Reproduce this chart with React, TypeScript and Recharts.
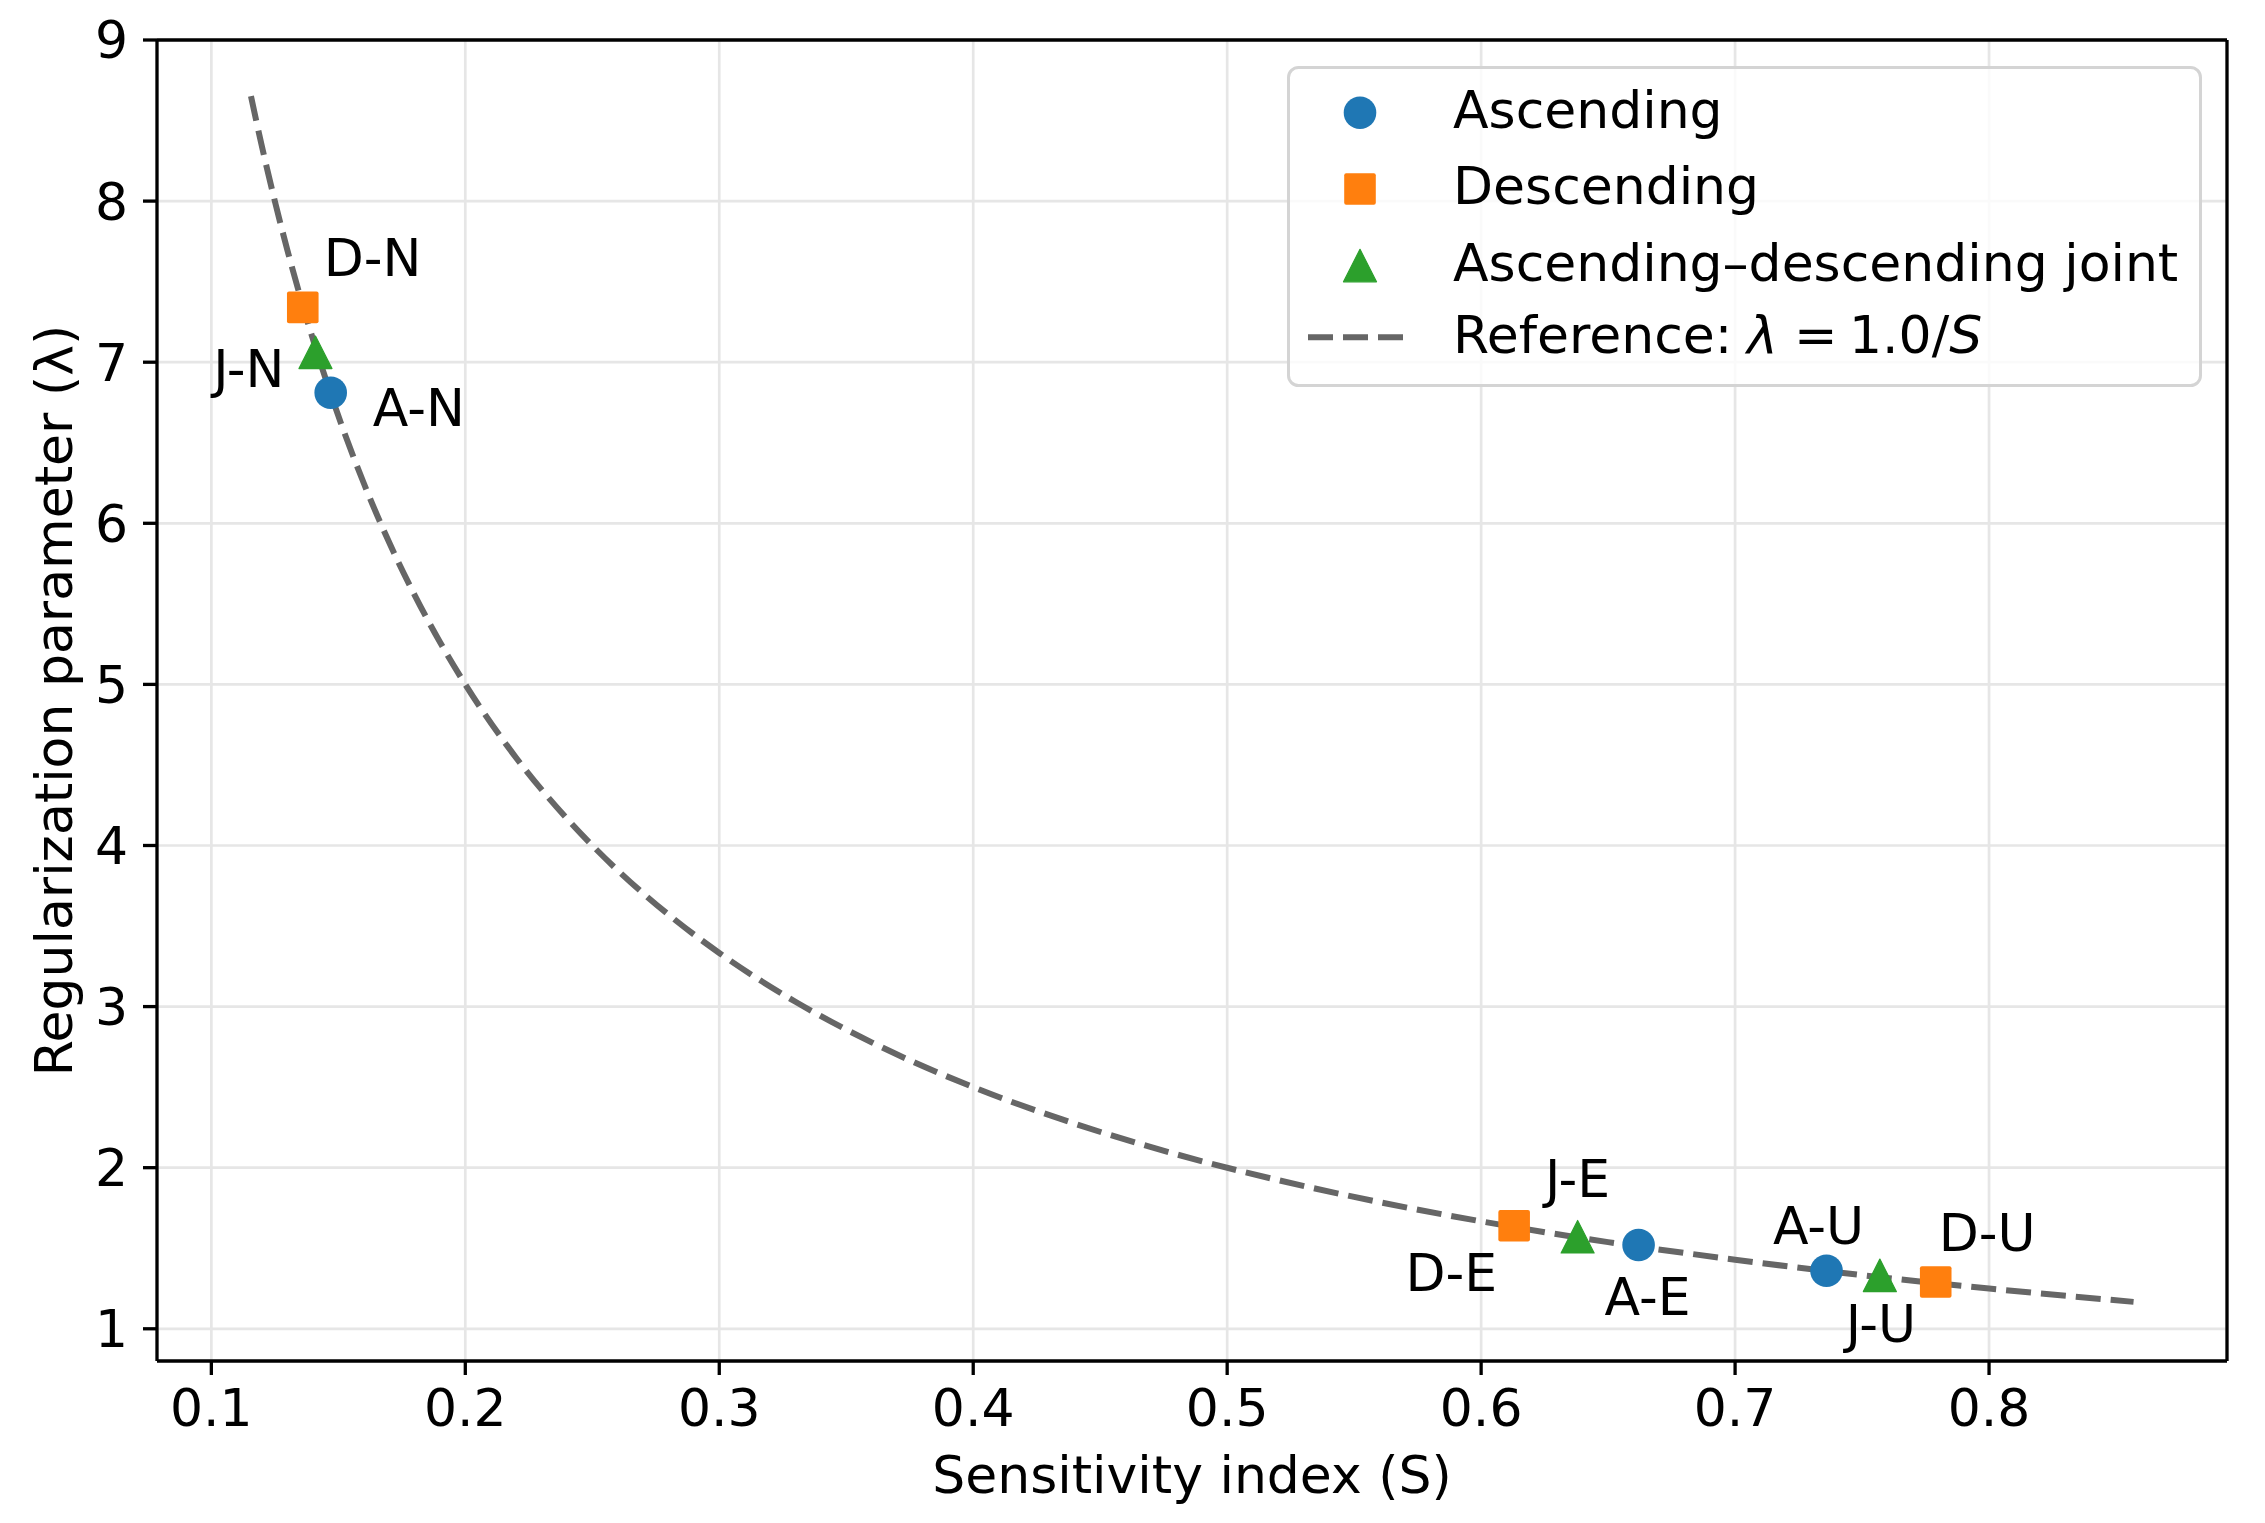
import React from 'react';
import {
  ComposedChart,
  Line,
  Scatter,
  XAxis,
  YAxis,
  CartesianGrid,
  Legend,
  ReferenceLine,
} from 'recharts';

// ---------------- data ----------------
const X_TICKS = [0.1, 0.2, 0.3, 0.4, 0.5, 0.6, 0.7, 0.8];
const Y_TICKS = [1, 2, 3, 4, 5, 6, 7, 8, 9];
const X_DOMAIN: [number, number] = [0.0786, 0.8937];
const Y_DOMAIN: [number, number] = [0.8, 9];

const ASC_LABELS = ['A-N', 'A-E', 'A-U'];
const ASC_S = [0.147, 0.662, 0.736];
const ASC_L = [6.81, 1.52, 1.36];

const DESC_LABELS = ['D-N', 'D-E', 'D-U'];
const DESC_S = [0.136, 0.613, 0.779];
const DESC_L = [7.34, 1.64, 1.29];

const JOINT_LABELS = ['J-N', 'J-E', 'J-U'];
const JOINT_S = [0.141, 0.638, 0.757];
const JOINT_L = [7.06, 1.57, 1.33];

// reference curve samples (lambda = 1.0 / S)
const REF_S = [
  0.1156, 0.12, 0.125, 0.13, 0.135, 0.14, 0.15, 0.16, 0.17, 0.18, 0.19, 0.2,
  0.22, 0.24, 0.26, 0.28, 0.3, 0.33, 0.36, 0.4, 0.44, 0.48, 0.52, 0.56, 0.6,
  0.65, 0.7, 0.75, 0.8, 0.8569,
];
const REF_L = [
  8.651, 8.333, 8.0, 7.692, 7.407, 7.143, 6.667, 6.25, 5.882, 5.556, 5.263, 5.0,
  4.545, 4.167, 3.846, 3.571, 3.333, 3.03, 2.778, 2.5, 2.273, 2.083, 1.923,
  1.786, 1.667, 1.538, 1.429, 1.333, 1.25, 1.167,
];

const SERIES_NAMES = ['Ascending', 'Descending', 'Ascending\u2013descending joint'];
const REF_NAME = 'Reference: \u03bb = 1.0/S';
const X_LABEL = 'Sensitivity index (S)';
const Y_LABEL = 'Regularization parameter (\u03bb)';

// ---------------- styles ----------------
const FONT = 'DejaVu Sans';
const FS = 52;
const COLORS = ['#1f77b4', '#ff7f0e', '#2ca02c'];
const REF_COLOR = '#666666';
const W = 2265;
const H = 1523;

// label offsets in px: [dx, dyBaseline, anchor]
const LABEL_POS: Record<string, [number, number, string]> = {
  'D-N': [21, -31, 'start'],
  'J-N': [-31, 34, 'end'],
  'A-N': [42, 33, 'start'],
  'D-E': [-17, 65, 'end'],
  'J-E': [0, -40, 'middle'],
  'A-E': [9, 70, 'middle'],
  'A-U': [-8, -27, 'middle'],
  'J-U': [1, 66, 'middle'],
  'D-U': [3, -31, 'start'],
};

const build = (labels: string[], s: number[], l: number[]) =>
  labels.map((label, i) => ({ label, s: s[i], l: l[i] }));

const ascData = build(ASC_LABELS, ASC_S, ASC_L);
const descData = build(DESC_LABELS, DESC_S, DESC_L);
const jointData = build(JOINT_LABELS, JOINT_S, JOINT_L);
const refData = REF_S.map((s, i) => ({ s, l: REF_L[i] }));

const markerPath = (kind: number, cx: number, cy: number, color: string) => {
  if (kind === 0) return <circle cx={cx} cy={cy} r={16.3} fill={color} />;
  if (kind === 1)
    return <rect x={cx - 15.8} y={cy - 15.8} width={31.6} height={31.6} rx={2} fill={color} />;
  return (
    <path
      d={`M${cx},${cy - 16.5}L${cx + 16.5},${cy + 16}L${cx - 16.5},${cy + 16}Z`}
      fill={color}
      stroke={color}
      strokeWidth={1.2}
      strokeLinejoin="round"
    />
  );
};

const makeShape = (kind: number) => (props: any) => {
  const { cx, cy, payload } = props;
  if (cx == null || cy == null) return null;
  const pos = LABEL_POS[payload.label] || [0, 0, 'start'];
  return (
    <g>
      {markerPath(kind, cx, cy, COLORS[kind])}
      <text
        x={cx + pos[0]}
        y={cy + pos[1]}
        textAnchor={pos[2] as any}
        fontFamily={FONT}
        fontSize={FS}
        fill="#000"
      >
        {payload.label}
      </text>
    </g>
  );
};

const LEG_W = 915;
const LEG_H = 321;

const renderLegend = () => {
  const rowY = [46.7, 123, 199.8, 271.3];
  const textX = 166;
  return (
    <svg width={LEG_W} height={LEG_H} style={{ display: 'block' }}>
      <rect
        x={1.5}
        y={1.5}
        width={LEG_W - 3}
        height={LEG_H - 3}
        rx={10}
        fill="rgba(255,255,255,0.8)"
        stroke="#d4d4d4"
        strokeWidth={3}
      />
      {SERIES_NAMES.map((n, i) => (
        <g key={n}>
          {markerPath(i, 73, rowY[i], COLORS[i])}
          <text x={textX} y={rowY[i] + 15} fontFamily={FONT} fontSize={FS} fill="#000">
            {n}
          </text>
        </g>
      ))}
      <line
        x1={21}
        x2={117}
        y1={rowY[3]}
        y2={rowY[3]}
        stroke={REF_COLOR}
        strokeWidth={6}
        strokeDasharray="25 10"
      />
      <text y={rowY[3] + 16} fontFamily={FONT} fontSize={FS} fill="#000">
        <tspan x={textX}>Reference: </tspan>
        <tspan x={460} fontStyle="italic">{'\u03bb'}</tspan>
        <tspan x={507}>=</tspan>
        <tspan x={562}>1.0/</tspan>
        <tspan fontStyle="italic">S</tspan>
      </text>
    </svg>
  );
};

const tickStyle = { fill: '#000', fontSize: FS, fontFamily: FONT };
const axisStroke = { stroke: '#000', strokeWidth: 3.3 };

export default function App() {
  return (
    <div style={{ position: 'absolute', left: 0, top: 0, width: W, height: H, background: '#fff' }}>
      <ComposedChart
        width={W}
        height={H}
        margin={{ top: 40, right: 38, left: 0, bottom: 0 }}
        style={{ fontFamily: FONT }}
      >
        <CartesianGrid stroke="#e6e6e6" strokeWidth={2.7} />
        <XAxis
          type="number"
          dataKey="s"
          domain={X_DOMAIN}
          allowDataOverflow
          ticks={X_TICKS}
          tickFormatter={(v: number) => String(v)}
          tick={tickStyle}
          tickSize={14}
          tickMargin={14}
          tickLine={axisStroke}
          axisLine={axisStroke}
          height={162}
          label={{
            value: X_LABEL,
            content: (p: any) => {
              const vb = p.viewBox || { x: 157, y: 1361, width: 2070, height: 162 };
              return (
                <text
                  x={vb.x + vb.width / 2}
                  y={vb.y + 132}
                  textAnchor="middle"
                  fontFamily={FONT}
                  fontSize={FS}
                  fill="#000"
                >
                  {X_LABEL}
                </text>
              );
            },
          }}
        />
        <YAxis
          type="number"
          domain={Y_DOMAIN}
          allowDataOverflow
          ticks={Y_TICKS}
          tickFormatter={(v: number) => String(v)}
          tick={tickStyle}
          tickSize={14}
          tickMargin={15}
          tickLine={axisStroke}
          axisLine={axisStroke}
          width={157}
          label={{
            value: Y_LABEL,
            content: (p: any) => {
              const vb = p.viewBox || { x: 0, y: 40, width: 157, height: 1321 };
              const x = vb.x + 72;
              const y = vb.y + vb.height / 2;
              return (
                <text
                  x={x}
                  y={y}
                  transform={`rotate(-90, ${x}, ${y})`}
                  textAnchor="middle"
                  fontFamily={FONT}
                  fontSize={FS}
                  fill="#000"
                >
                  {Y_LABEL}
                </text>
              );
            },
          }}
        />
        <ReferenceLine y={Y_DOMAIN[1]} stroke="#000" strokeWidth={3.3} ifOverflow="visible" />
        <ReferenceLine x={X_DOMAIN[1]} stroke="#000" strokeWidth={3.3} ifOverflow="visible" />
        <Legend
          layout="horizontal"
          verticalAlign="middle"
          align="center"
          width={LEG_W}
          height={LEG_H}
          wrapperStyle={{ left: 1287, top: 66, width: LEG_W, height: LEG_H }}
          content={renderLegend}
        />
        <Line
          data={refData}
          dataKey="l"
          name={REF_NAME}
          type="monotone"
          stroke={REF_COLOR}
          strokeWidth={6}
          strokeDasharray="25 10"
          dot={false}
          activeDot={false}
          isAnimationActive={false}
          legendType="line"
        />
        <Scatter
          data={ascData}
          dataKey="l"
          name={SERIES_NAMES[0]}
          fill={COLORS[0]}
          shape={makeShape(0)}
          isAnimationActive={false}
        />
        <Scatter
          data={descData}
          dataKey="l"
          name={SERIES_NAMES[1]}
          fill={COLORS[1]}
          shape={makeShape(1)}
          isAnimationActive={false}
        />
        <Scatter
          data={jointData}
          dataKey="l"
          name={SERIES_NAMES[2]}
          fill={COLORS[2]}
          shape={makeShape(2)}
          isAnimationActive={false}
        />
      </ComposedChart>
    </div>
  );
}
